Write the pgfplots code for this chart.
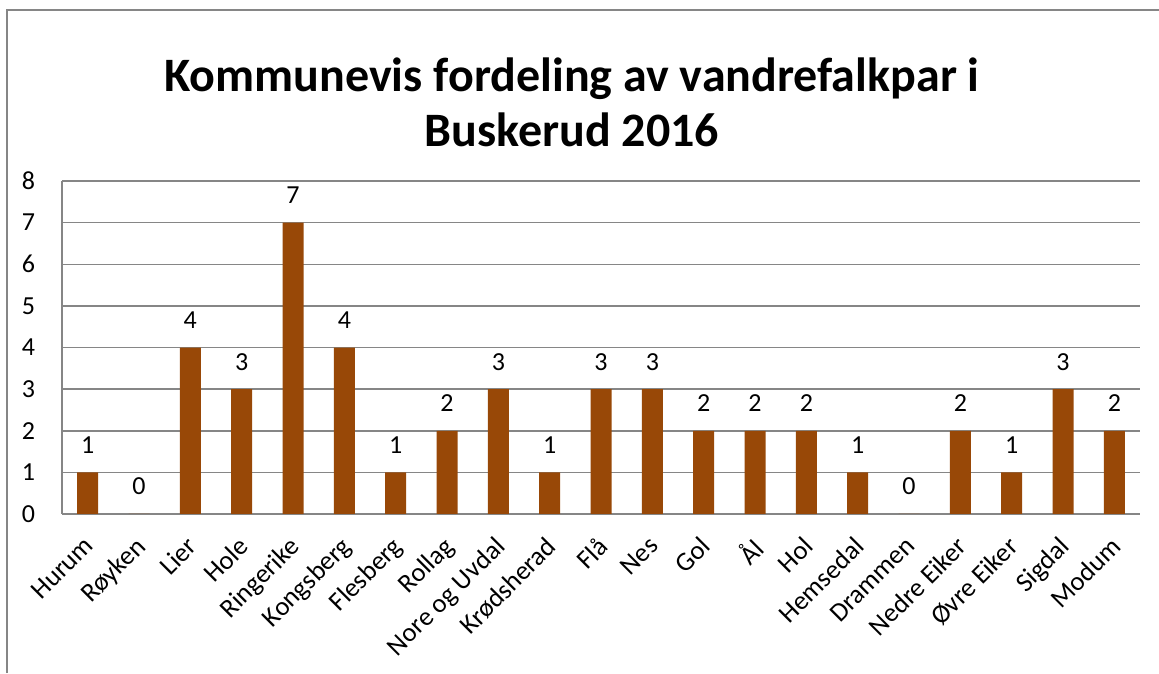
\documentclass[border=0pt]{standalone}
\usepackage{fontspec}
\setmainfont{Carlito}
\usepackage{pgfplots}
\pgfplotsset{compat=1.18}
\definecolor{barc}{HTML}{984807}
\definecolor{gridc}{HTML}{868686}
\begin{document}
\begin{tikzpicture}
\begin{axis}[
    scale only axis,
    width=539pt, height=166.5pt,
    ymin=0, ymax=8,
    xmin=-0.5, xmax=20.5,
    ytick={0,...,8},
    xtick=data,
    xticklabels={Hurum,Røyken,Lier,Hole,Ringerike,Kongsberg,Flesberg,Rollag,Nore og Uvdal,Krødsherad,Flå,Nes,Gol,Ål,Hol,Hemsedal,Drammen,Nedre Eiker,Øvre Eiker,Sigdal,Modum},
    xticklabel style={xshift=-2.5pt, yshift=-9pt, rotate=45, anchor=north east, inner sep=1pt, font=\fontsize{13.3}{15}\selectfont},
    yticklabel style={font=\fontsize{13}{15}\selectfont, xshift=-10pt},
    /pgf/number format/assume math mode=true,
    axis lines=left,
    axis line style={-, gridc, line width=0.9pt},
    ymajorgrids,
    grid style={gridc, line width=0.75pt},
    major tick length=0pt,
    ybar, bar width=10.5pt,
    nodes near coords,
    every node near coord/.append style={anchor=base, yshift=9.5pt, inner sep=0pt, font=\fontsize{13}{15}\selectfont, black},
    clip=false,
]
\addplot[fill=barc, draw=none] coordinates {
    (0,1) (1,0) (2,4) (3,3) (4,7) (5,4) (6,1) (7,2) (8,3) (9,1)
    (10,3) (11,3) (12,2) (13,2) (14,2) (15,1) (16,0) (17,2) (18,1) (19,3) (20,2)
};
\end{axis}
\path[use as bounding box] (-31pt,-79.5pt) rectangle (548.5pt,257pt);
\draw[gridc, line width=1pt] (-27.5pt,-79.5pt) -- (-27.5pt,252pt) -- (548.5pt,252pt);
\node[font=\fontsize{24}{27.5}\selectfont\bfseries, align=center] at (255pt,205.75pt)
    {Kommunevis fordeling av vandrefalkpar i\\Buskerud 2016};
\end{tikzpicture}
\end{document}
